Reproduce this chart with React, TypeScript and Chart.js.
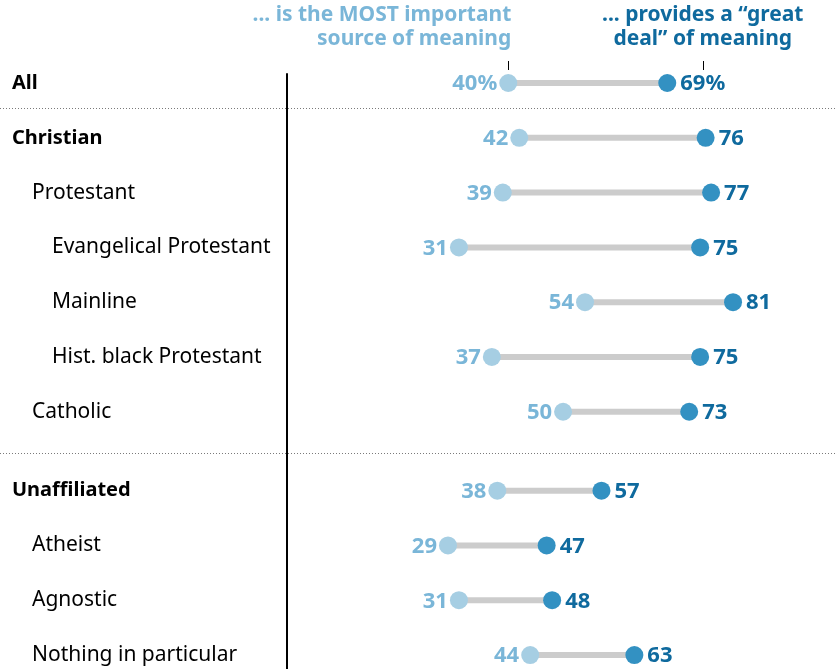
import React, { useEffect, useRef } from "react";
import { Chart, registerables } from "chart.js";

Chart.register(...registerables);

const categories = [
  "All",
  "Christian",
  "Protestant",
  "Evangelical Protestant",
  "Mainline",
  "Hist. black Protestant",
  "Catholic",
  "Unaffiliated",
  "Atheist",
  "Agnostic",
  "Nothing in particular",
];
const indentLevels = [0, 0, 1, 2, 2, 2, 1, 0, 1, 1, 1];
const rowPositions = [0, 1, 2, 3, 4, 5, 6, 7.44, 8.44, 9.44, 10.44];
const mostImportant = [40, 42, 39, 31, 54, 37, 50, 38, 29, 31, 44];
const greatDeal = [69, 76, 77, 75, 81, 75, 73, 57, 47, 48, 63];
const headerLight = ["... is the MOST important", "source of meaning"];
const headerDark = ["... provides a \u201cgreat", "deal\u201d of meaning"];

const LIGHT_DOT = "#a6cee3";
const LIGHT_TEXT = "#7ab6d8";
const DARK_DOT = "#3391c2";
const DARK_TEXT = "#0f6a9e";
const FONT = "'Noto Sans', Roboto, Arial, sans-serif";

export default function App() {
  const ref = useRef<HTMLCanvasElement | null>(null);

  useEffect(() => {
    document.body.style.margin = "0";
    const canvas = ref.current!;
    const connectors = categories.map((c, i) => ({
      type: "line" as const,
      label: c,
      data: [
        { x: mostImportant[i], y: rowPositions[i] },
        { x: greatDeal[i], y: rowPositions[i] },
      ],
      borderColor: "#cccccc",
      borderWidth: 6,
      borderCapStyle: "butt" as const,
      pointRadius: 0,
      order: 3,
    }));

    const overlay = {
      id: "overlay",
      beforeDatasetsDraw(chart: any) {
        const ctx = chart.ctx;
        const ys = chart.scales.y;
        ctx.save();
        ctx.strokeStyle = "#7a7a7a";
        ctx.lineWidth = 1;
        ctx.setLineDash([1, 2]);
        const seps = [
          (rowPositions[0] + rowPositions[1]) / 2 - 0.04,
          (rowPositions[6] + rowPositions[7]) / 2 + 0.03,
        ];
        seps.forEach((s) => {
          const y = Math.round(ys.getPixelForValue(s)) + 0.5;
          ctx.beginPath();
          ctx.moveTo(0, y);
          ctx.lineTo(chart.width, y);
          ctx.stroke();
        });
        ctx.setLineDash([]);
        ctx.strokeStyle = "#000";
        ctx.lineWidth = 2;
        ctx.beginPath();
        ctx.moveTo(287, ys.getPixelForValue(-0.18));
        ctx.lineTo(287, chart.height);
        ctx.stroke();
        ctx.restore();
      },
      afterDatasetsDraw(chart: any) {
        const ctx = chart.ctx;
        const xs = chart.scales.x;
        const ys = chart.scales.y;
        ctx.save();
        ctx.textBaseline = "middle";
        ctx.textAlign = "left";
        categories.forEach((c, i) => {
          const lvl = indentLevels[i];
          ctx.font = (lvl === 0 ? "bold 20px " : "21px ") + FONT;
          ctx.fillStyle = "#000";
          ctx.fillText(c, 12 + lvl * 20, ys.getPixelForValue(rowPositions[i]));
        });
        ctx.font = "bold 22px " + FONT;
        categories.forEach((c, i) => {
          const y = ys.getPixelForValue(rowPositions[i]) + 1;
          const suffix = i === 0 ? "%" : "";
          ctx.fillStyle = LIGHT_TEXT;
          ctx.textAlign = "right";
          ctx.fillText(mostImportant[i] + suffix, xs.getPixelForValue(mostImportant[i]) - 11, y);
          ctx.fillStyle = DARK_TEXT;
          ctx.textAlign = "left";
          ctx.fillText(greatDeal[i] + suffix, xs.getPixelForValue(greatDeal[i]) + 13, y);
        });
        const lx = xs.getPixelForValue(mostImportant[0]);
        const darkLabelX = xs.getPixelForValue(greatDeal[0]) + 13;
        const w = ctx.measureText(greatDeal[0] + "%").width as number;
        const dx = darkLabelX + w / 2;
        ctx.font = "bold 21px " + FONT;
        ctx.textBaseline = "alphabetic";
        ctx.fillStyle = LIGHT_TEXT;
        ctx.textAlign = "right";
        headerLight.forEach((t, k) => ctx.fillText(t, lx + 3, 21 + k * 24));
        ctx.fillStyle = DARK_TEXT;
        ctx.textAlign = "center";
        headerDark.forEach((t, k) => ctx.fillText(t, dx, 21 + k * 24));
        ctx.strokeStyle = "#000";
        ctx.lineWidth = 1;
        [Math.round(lx) + 0.5, Math.round(dx) + 0.5].forEach((x) => {
          ctx.beginPath();
          ctx.moveTo(x, 61);
          ctx.lineTo(x, 70);
          ctx.stroke();
        });
        ctx.restore();
      },
    };

    const chart = new Chart(canvas, {
      type: "scatter",
      data: {
        datasets: [
          ...connectors,
          {
            type: "scatter" as const,
            label: "Most important",
            data: mostImportant.map((v, i) => ({ x: v, y: rowPositions[i] })),
            backgroundColor: LIGHT_DOT,
            borderWidth: 0,
            pointRadius: 9,
            order: 1,
          },
          {
            type: "scatter" as const,
            label: "Great deal",
            data: greatDeal.map((v, i) => ({ x: v, y: rowPositions[i] })),
            backgroundColor: DARK_DOT,
            borderWidth: 0,
            pointRadius: 9,
            order: 0,
          },
        ] as any,
      },
      options: {
        animation: false,
        responsive: false,
        maintainAspectRatio: false,
        layout: { autoPadding: false, padding: { left: 289, right: 0, top: 0, bottom: 0 } },
        plugins: { legend: { display: false }, tooltip: { enabled: false } },
        scales: {
          x: { type: "linear", min: 0, max: 99.6, display: false },
          y: { type: "linear", min: -1.515, max: 10.695, reverse: true, display: false },
        },
      },
      plugins: [overlay],
    });
    return () => chart.destroy();
  }, []);

  return (
    <div style={{ position: "absolute", left: 0, top: 0, width: 835, height: 669 }}>
      <canvas ref={ref} width={835} height={669} style={{ display: "block" }} />
    </div>
  );
}
